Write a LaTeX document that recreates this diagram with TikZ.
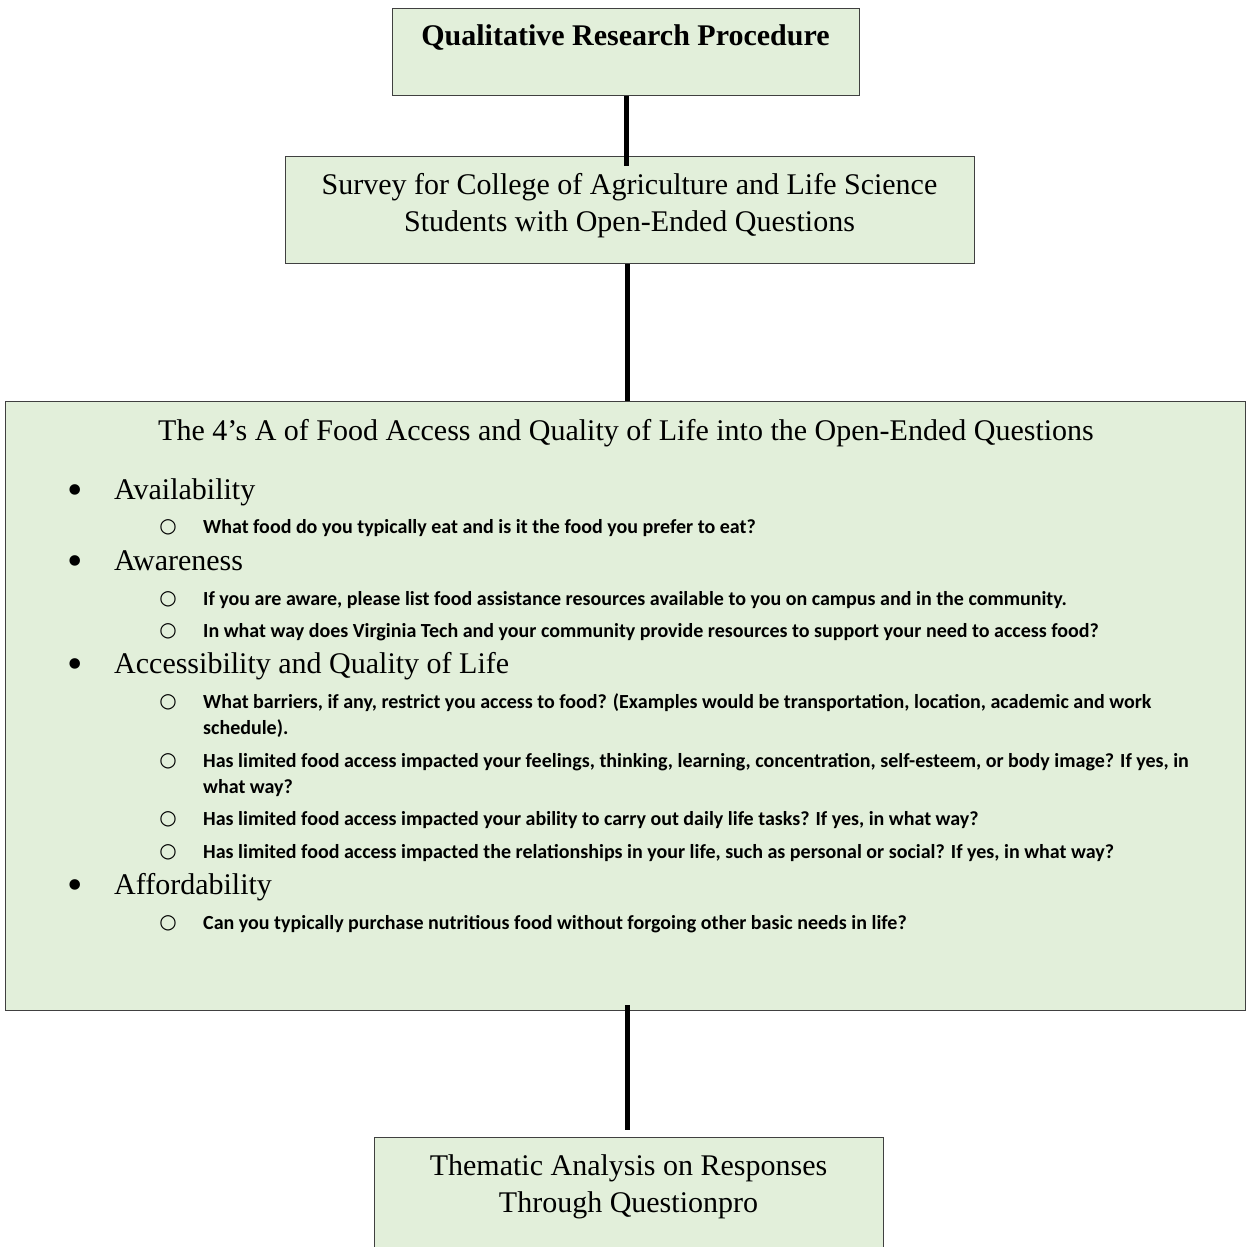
\documentclass[tikz,border=0pt]{standalone}
\usepackage{fontspec}
\setmainfont{Liberation Serif}
\newfontfamily\qfont{Carlito}
\newfontfamily\symfont{DejaVu Sans}
\definecolor{boxfill}{HTML}{E2EFDA}
\definecolor{boxline}{HTML}{404040}
\begin{document}
\begin{tikzpicture}[x=1pt,y=-1pt,
  box/.style={draw=boxline, fill=boxfill, line width=1.3pt, rectangle, inner sep=0pt, anchor=north west},
  conn/.style={line width=5pt, black},
  serif/.style={font=\fontsize{30}{37}\selectfont, inner sep=0pt},
  ctext/.style={serif, anchor=base},
  head/.style={serif, anchor=base west},
  qtext/.style={font=\qfont\bfseries\fontsize{20}{26}\selectfont, inner sep=0pt, anchor=base west},
  bul/.style={font=\fontsize{44}{48}\selectfont, inner sep=0pt, anchor=base},
  sbul/.style={font=\symfont\fontsize{20}{24}\selectfont, inner sep=0pt, anchor=base, yshift=1pt}
]
\useasboundingbox (0,0) rectangle (1246,1247);
\clip (0,0) rectangle (1246,1247);

% boxes
\node[box, minimum width=467pt, minimum height=87pt] (b1) at (392,8) {};
\node[box, minimum width=689pt, minimum height=107pt] (b2) at (285,156) {};
\node[box, minimum width=1240pt, minimum height=609pt] (b3) at (5,401) {};
\node[box, minimum width=509pt, minimum height=140pt] (b4) at (374,1137) {};

% connectors
\draw[conn, shorten >=-10pt] (b1.south) -- (b1.south |- b2.north);
\draw[conn] ([xshift=-2.5pt]b2.south) -- ([xshift=-2.5pt]b2.south |- b3.north);
\draw[conn, shorten <=-6pt, shorten >=7pt] ([xshift=1.5pt]b3.south) -- ([xshift=1.5pt]b3.south |- b4.north);

% box texts
\node[ctext, font=\bfseries\fontsize{30}{37}\selectfont] (t1) at (625.5,46) {Qualitative Research Procedure};
\node[ctext] (t2a) at (629.5,194) {Survey for College of Agriculture and Life Science};
\node[ctext] (t2b) at (629.5,231) {Students with Open-Ended Questions};
\node[ctext] (t3) at (626,440) {The 4’s A of Food Access and Quality of Life into the Open-Ended Questions};
\node[ctext] (t4a) at (628.5,1175) {Thematic Analysis on Responses};
\node[ctext] (t4b) at (628.5,1212) {Through Questionpro};

% list
\node[bul] (p1) at (75,504) {•};
\node[head] (h1) at (114,499) {Availability};
\node[sbul] (s1) at (168,533) {○};
\node[qtext] (q1) at (203,533) {What food do you typically eat and is it the food you prefer to eat?};

\node[bul] (p2) at (75,575) {•};
\node[head] (h2) at (114,570) {Awareness};
\node[sbul] (s2) at (168,605) {○};
\node[qtext] (q2) at (203,605) {If you are aware, please list food assistance resources available to you on campus and in the community.};
\node[sbul] (s3) at (168,637) {○};
\node[qtext] (q3) at (203,637) {In what way does Virginia Tech and your community provide resources to support your need to access food?};

\node[bul] (p3) at (75,678) {•};
\node[head] (h3) at (114,673) {Accessibility and Quality of Life};
\node[sbul] (s4) at (168,708) {○};
\node[qtext] (q4a) at (203,708) {What barriers, if any, restrict you access to food? (Examples would be transportation, location, academic and work};
\node[qtext] (q4b) at (203,734) {schedule).};
\node[sbul] (s5) at (168,767) {○};
\node[qtext] (q5a) at (203,767) {Has limited food access impacted your feelings, thinking, learning, concentration, self-esteem, or body image? If yes, in};
\node[qtext] (q5b) at (203,793) {what way?};
\node[sbul] (s6) at (168,825) {○};
\node[qtext] (q6) at (203,825) {Has limited food access impacted your ability to carry out daily life tasks? If yes, in what way?};
\node[sbul] (s7) at (168,858) {○};
\node[qtext] (q7) at (203,858) {Has limited food access impacted the relationships in your life, such as personal or social? If yes, in what way?};

\node[bul] (p4) at (75,899) {•};
\node[head] (h4) at (114,894) {Affordability};
\node[sbul] (s8) at (168,929) {○};
\node[qtext] (q8) at (203,929) {Can you typically purchase nutritious food without forgoing other basic needs in life?};
\end{tikzpicture}
\end{document}
